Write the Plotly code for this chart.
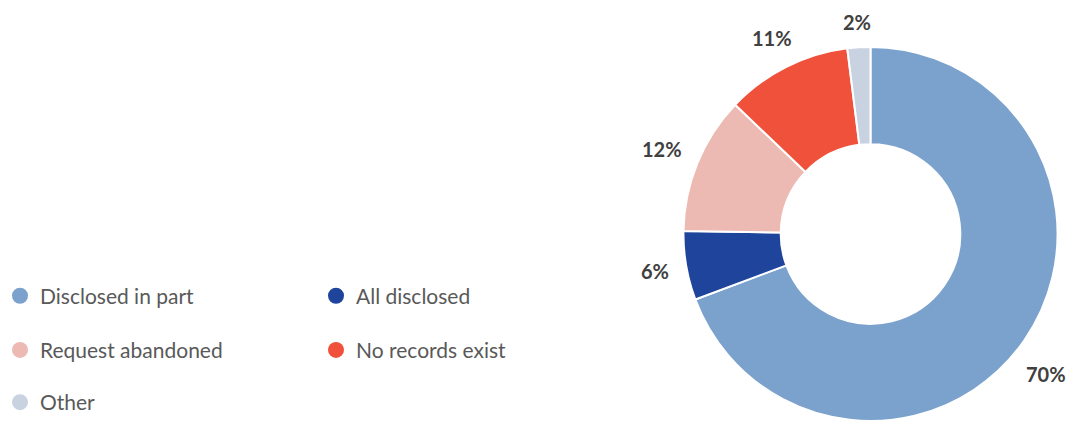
import math
import plotly.graph_objects as go

categories = ["Disclosed in part", "All disclosed", "Request abandoned", "No records exist", "Other"]
values = [70, 6, 12, 11, 2]
colors = ["#7BA1CD", "#1F449B", "#EDBAB3", "#EF513B", "#C9D2E1"]
# legend rows (two columns)
legend_rows = [["Disclosed in part", "All disclosed"],
               ["Request abandoned", "No records exist"],
               ["Other"]]

FONT = "Lato"
W, H = 1070, 423
# pie geometry (pixels)
CX, CY, R = 870.5, 234.5, 187.5
LABEL_GAP = 16.0
LABEL_SIZE = 20

fig = go.Figure()

fig.add_trace(go.Pie(
    labels=categories, values=values, sort=False, direction="clockwise", rotation=0,
    hole=0.48,
    marker=dict(colors=colors, line=dict(color="white", width=2)),
    textinfo="none",
    showlegend=False, hoverinfo="label+value",
    domain=dict(x=[(CX - R) / W, (CX + R) / W],
                y=[(H - CY - R) / H, (H - CY + R) / H]),
))

# data labels placed along each slice's bisector, just outside the ring;
# slid along their circle if they would overflow the right edge
total = sum(values)
cum = 0
annotations = []
for v in values:
    theta = 2 * math.pi * (cum + v / 2) / total
    cum += v
    txt = f"{v}%"
    hw = ((len(txt) - 1) * 0.58 * LABEL_SIZE + 0.85 * LABEL_SIZE) / 2
    hh = 8.0
    s, c = math.sin(theta), math.cos(theta)
    dist = R + LABEL_GAP + abs(s) * hw + abs(c) * hh
    px = CX + dist * s
    py = CY - dist * c
    if px + hw > W - 4:
        px = W - 4 - hw
        side = 1 if c < 0 else -1
        py = CY + side * math.sqrt(max(dist ** 2 - (px - CX) ** 2, 0))
    annotations.append(dict(
        x=px / W, y=(H - py) / H, xref="paper", yref="paper",
        text=f"<b>{txt}</b>", showarrow=False, xanchor="center", yanchor="middle",
        font=dict(family=FONT, size=LABEL_SIZE, color="#404040"),
    ))

legend_names = ["legend", "legend2", "legend3"]
for row, lname in zip(legend_rows, legend_names):
    for name in row:
        i = categories.index(name)
        fig.add_trace(go.Scatter(
            x=[None], y=[None], mode="markers", name=name,
            marker=dict(color=colors[i], size=16, symbol="circle"),
            legend=lname, showlegend=True, hoverinfo="skip",
        ))

row_y = [0.300, 0.172, 0.047]
leg_common = dict(orientation="h", x=0, xanchor="left", yanchor="middle",
                  font=dict(family=FONT, size=21, color="#595959"),
                  entrywidth=271, entrywidthmode="pixels",
                  itemsizing="trace", bgcolor="rgba(0,0,0,0)")
layout_legends = {}
for lname, yy in zip(legend_names, row_y):
    layout_legends[lname] = dict(leg_common, y=yy)

fig.update_layout(
    width=W, height=H,
    margin=dict(l=0, r=0, t=0, b=0),
    paper_bgcolor="white", plot_bgcolor="white",
    xaxis=dict(visible=False), yaxis=dict(visible=False),
    annotations=annotations,
    **layout_legends,
)

fig.write_html("out.html", config={"displayModeBar": False},
               post_script="document.body.style.margin='0';")
